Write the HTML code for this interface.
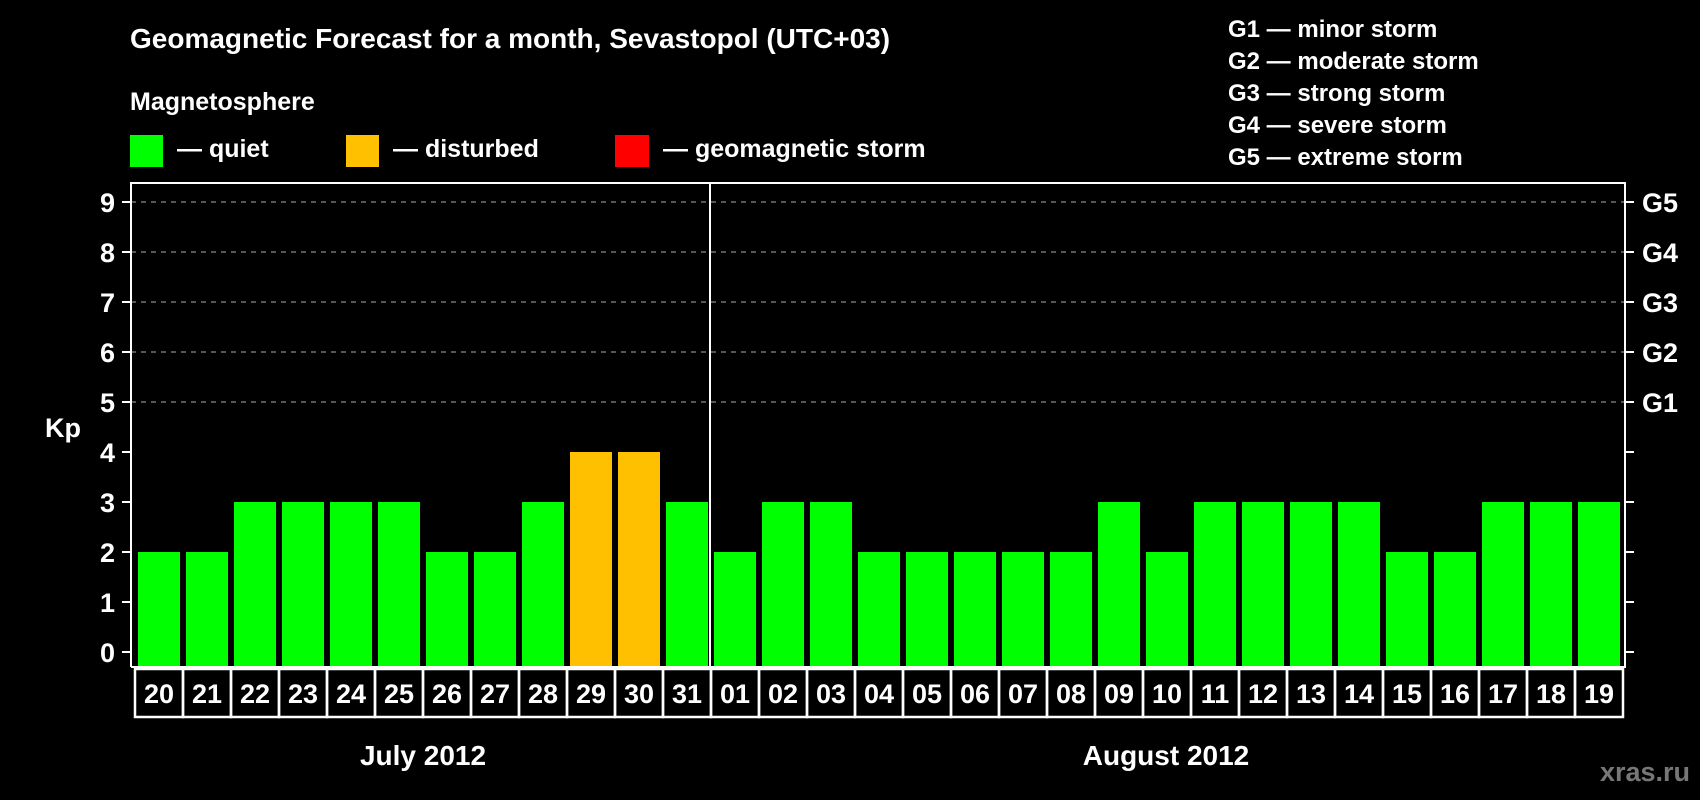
<!DOCTYPE html>
<html><head><meta charset="utf-8">
<style>
html,body{margin:0;padding:0;background:#000;}
svg{display:block;font-family:"Liberation Sans",Arial,sans-serif;font-weight:bold;}
</style></head>
<body>
<svg id="chart" width="1700" height="800" viewBox="0 0 1700 800">
<rect x="0" y="0" width="1700" height="800" fill="#000"/>
<text x="130" y="48" fill="#fff" font-size="28">Geomagnetic Forecast for a month, Sevastopol (UTC+03)</text>
<text x="130" y="110" fill="#fff" font-size="25">Magnetosphere</text>
<g>
<rect x="130" y="135" width="33" height="32" fill="#00ff00"/>
<text x="177" y="157" fill="#fff" font-size="25">— quiet</text></g>
<g>
<rect x="346" y="135" width="33" height="32" fill="#ffc000"/>
<text x="393" y="157" fill="#fff" font-size="25">— disturbed</text></g>
<g>
<rect x="615" y="135" width="34" height="32" fill="#ff0000"/>
<text x="663" y="157" fill="#fff" font-size="25">— geomagnetic storm</text></g>
<g font-size="24" fill="#fff">
<text x="1228" y="37">G1 — minor storm</text>
<text x="1228" y="69">G2 — moderate storm</text>
<text x="1228" y="101">G3 — strong storm</text>
<text x="1228" y="133">G4 — severe storm</text>
<text x="1228" y="165">G5 — extreme storm</text>
</g>
<text x="63" y="437" fill="#fff" font-size="27" text-anchor="middle">Kp</text>
<text x="423" y="765" fill="#fff" font-size="28" text-anchor="middle">July 2012</text>
<text x="1166" y="765" fill="#fff" font-size="28" text-anchor="middle">August 2012</text>
<text x="1690" y="781" fill="#777" font-size="27" text-anchor="end">xras.ru</text>
<g id="plot"></g>
</svg>
<script>
const days = ["20","21","22","23","24","25","26","27","28","29","30","31","01","02","03","04","05","06","07","08","09","10","11","12","13","14","15","16","17","18","19"];
const kpValues = [2,2,3,3,3,3,2,2,3,4,4,3,2,3,3,2,2,2,2,2,3,2,3,3,3,3,2,2,3,3,3];
const yTicks = [0,1,2,3,4,5,6,7,8,9];
const gLabels = ["","","","","","G1","G2","G3","G4","G5"];
const monthSplitIndex = 12;

const NS = "http://www.w3.org/2000/svg";
const plot = document.getElementById('plot');
const L = 131, R = 1625, T = 183, B = 667;
const y0 = 652, unit = 50;
const pitch = 48, x0 = 135;
function yScale(v){ return y0 - v*unit; }
function xBand(i){ return x0 + i*pitch; }
function mk(tag, attrs){ const e = document.createElementNS(NS, tag); for (const k in attrs) e.setAttribute(k, attrs[k]); plot.appendChild(e); return e; }
function color(v){ return v >= 5 ? "#ff0000" : (v >= 4 ? "#ffc000" : "#00ff00"); }

yTicks.forEach((t, i) => {
  const y = yScale(t);
  if (t >= 5) {
    const g = mk('line', {x1:L, x2:R, y1:y, y2:y, stroke:'#8a8a8a', 'stroke-width':1.2, 'stroke-dasharray':'5,5'});
    
    
  }
  const lt = mk('line', {x1:L-9, x2:L, y1:y, y2:y, stroke:'#fff', 'stroke-width':2});
  
  
  const rt = mk('line', {x1:R, x2:R+9, y1:y, y2:y, stroke:'#fff', 'stroke-width':2});
  
  
  const tl = mk('text', {x:115, y:y+10, fill:'#fff', 'font-size':27, 'text-anchor':'end'});
  tl.textContent = String(t);
  
  
  if (gLabels[i]) {
    const gl = mk('text', {x:1642, y:y+10, fill:'#fff', 'font-size':27});
    gl.textContent = gLabels[i];
    
    
  }
});

kpValues.forEach((v, i) => {
  const b = mk('rect', {x:xBand(i)+3, y:yScale(v), width:42, height:B-yScale(v), fill:color(v)});
  
  
});

const frame = mk('polyline', {points:`${L},${B} ${L},${T} ${R},${T} ${R},${B} ${L},${B}`, fill:'none', stroke:'#fff', 'stroke-width':2});



const div = mk('line', {x1:xBand(monthSplitIndex)-1, x2:xBand(monthSplitIndex)-1, y1:T, y2:B, stroke:'#fff', 'stroke-width':2});



days.forEach((d, i) => {
  const x = xBand(i);
  const box = mk('rect', {x:x, y:669, width:pitch, height:48, fill:'none', stroke:'#fff', 'stroke-width':2.5});
  
  
  const t = mk('text', {x:x+pitch/2, y:703, fill:'#fff', 'font-size':27, 'text-anchor':'middle'});
  t.textContent = d;
  
  
});
</script>
</body></html>
